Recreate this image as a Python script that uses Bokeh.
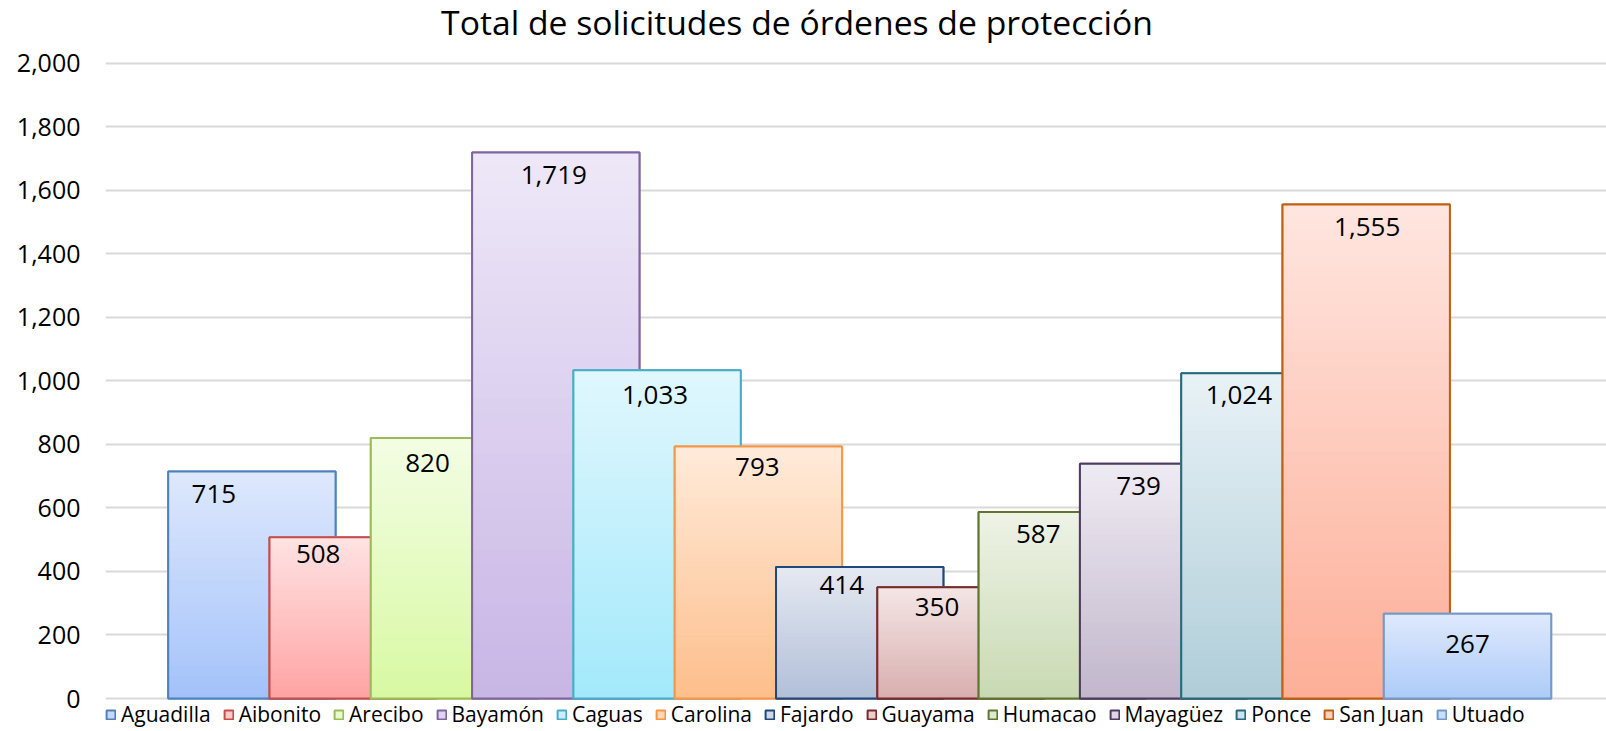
import numpy as np
from bokeh.plotting import figure
from bokeh.models import (ColumnDataSource, Legend, LegendItem, NumeralTickFormatter,
                          Range1d, FixedTicker, Label)
from bokeh.embed import file_html
from bokeh.resources import INLINE
from bokeh.core.properties import value

# ---------------- data ----------------
title_text = "Total de solicitudes de órdenes de protección"
regions = ["Aguadilla", "Aibonito", "Arecibo", "Bayamón", "Caguas", "Carolina", "Fajardo",
           "Guayama", "Humacao", "Mayagüez", "Ponce", "San Juan", "Utuado"]
counts = [715, 508, 820, 1719, 1033, 793, 414, 350, 587, 739, 1024, 1555, 267]
y_ticks = [0, 200, 400, 600, 800, 1000, 1200, 1400, 1600, 1800, 2000]

# ---------------- styles ----------------
border_colors = ["#4F81BD", "#C0504D", "#9BBB59", "#8064A2", "#4BACC6", "#F79646", "#1F497D",
                 "#772C2A", "#5F7530", "#4D3B62", "#276A7C", "#C0600F", "#7399C6"]
top_colors = ["#DEE8FC", "#FFE3E3", "#F3FDE3", "#EEE8F8", "#E0F7FD", "#FFEBDA", "#E5E9F1",
              "#F4E6E6", "#EEF3E6", "#EFEBF3", "#E8F2F6", "#FFE6E0", "#DEE9FD"]
bottom_colors = ["#A3C2FA", "#FFA3A3", "#D8F9A2", "#C8B5E5", "#A3E9FB", "#FDBE8B", "#B1BFD8",
                 "#D8AEAD", "#C9D9B3", "#C1B6CB", "#AFCDD8", "#FDAE97", "#ACCBF8"]
label_dx = [-38, -35, -27, -2, -2, -1, -18, -24, -24, -25, -26, 1, 0]
label_dy = [23, 17, 25, 23, 25, 20, 18, 20, 22, 22, 22, 22, 30]

FONT = "Open Sans"
BAR_W = 1.652
N_SLICES = 40
W, H = 1606, 731
FRAME_LEFT = 105


def hex2rgb(h):
    h = h.lstrip("#")
    return np.array([int(h[i:i + 2], 16) for i in (0, 2, 4)], dtype=float)


def rgb2hex(c):
    return "#%02x%02x%02x" % tuple(int(round(v)) for v in c)


# frame covers the whole canvas right of the y axis; 2000 sits ~63px below the top,
# 0 sits 33px above the bottom (room for title and legend inside the frame)
Y2000_PX, Y0_PX = 62.7, 698.0
px_per_unit = (Y0_PX - Y2000_PX) / 2000.0
y_top = 2000 + Y2000_PX / px_per_unit
y_bot = -(H - Y0_PX) / px_per_unit

p = figure(width=W, height=H, output_backend="svg", toolbar_location=None,
           x_range=Range1d(-1.445, 13.372), y_range=Range1d(y_bot, y_top),
           min_border_left=FRAME_LEFT, min_border_right=0, min_border_top=0,
           min_border_bottom=0)
p.outline_line_color = None
p.xaxis.visible = False
p.xgrid.visible = False
p.ygrid.grid_line_color = "#D9D9D9"
p.ygrid.grid_line_width = 2
p.yaxis.ticker = FixedTicker(ticks=y_ticks)
p.yaxis.formatter = NumeralTickFormatter(format="0,0")
p.yaxis.axis_line_color = None
p.yaxis.major_tick_line_color = None
p.yaxis.minor_tick_line_color = None
p.yaxis.major_tick_out = 0
p.yaxis.major_tick_in = 0
p.yaxis.major_label_standoff = 25
p.yaxis.major_label_text_font = FONT
p.yaxis.major_label_text_font_size = "25px"
p.yaxis.major_label_text_color = "#000000"

title = Label(x=796.5 - FRAME_LEFT, y=H - 21.6, x_units="screen", y_units="screen",
              text=title_text, text_align="center", text_baseline="middle",
              text_font=FONT, text_font_size="33.7px", text_color="#000000")
p.add_layout(title)

xs = np.arange(len(regions), dtype=float)
legend_items = []
for i, (name, v) in enumerate(zip(regions, counts)):
    top_c = hex2rgb(top_colors[i])
    bot_c = hex2rgb(bottom_colors[i])
    mid = rgb2hex(bot_c + (top_c - bot_c) * 0.6)
    base = p.vbar(x=[xs[i]], top=[v], bottom=0, width=BAR_W, fill_color=mid,
                  line_color=border_colors[i], line_width=2)
    ks = np.arange(N_SLICES)
    cols = [rgb2hex(bot_c + (top_c - bot_c) * ((k + 0.5) / N_SLICES)) for k in ks]
    src = ColumnDataSource(dict(
        left=[xs[i] - BAR_W / 2] * N_SLICES,
        right=[xs[i] + BAR_W / 2] * N_SLICES,
        bottom=list(v * ks / N_SLICES),
        top=list(v * (ks + 1) / N_SLICES),
        c=cols))
    p.quad(left="left", right="right", bottom="bottom", top="top", source=src,
           fill_color="c", line_color="c", line_width=1)
    p.vbar(x=[xs[i]], top=[v], bottom=0, width=BAR_W, fill_alpha=0,
           line_color=border_colors[i], line_width=2)
    legend_items.append(LegendItem(label=name, renderers=[base]))

lab_src = ColumnDataSource(dict(x=xs, y=counts, t=[f"{v:,}" for v in counts],
                                dx=label_dx, dy=label_dy))
p.text(x="x", y="y", text="t", x_offset="dx", y_offset="dy", source=lab_src,
       text_align="center", text_baseline="middle", text_font=value(FONT),
       text_font_size="26px", text_color="#000000")

legend = Legend(items=legend_items, orientation="horizontal", location=(0, 3),
                glyph_width=11, glyph_height=11, label_standoff=5, spacing=12,
                padding=0, margin=0, border_line_color=None, background_fill_alpha=0,
                label_text_font=FONT, label_text_font_size="21px", label_height=20,
                label_text_color="#000000")
p.add_layout(legend, "center")

open("out.html", "w").write(file_html(p, INLINE))
